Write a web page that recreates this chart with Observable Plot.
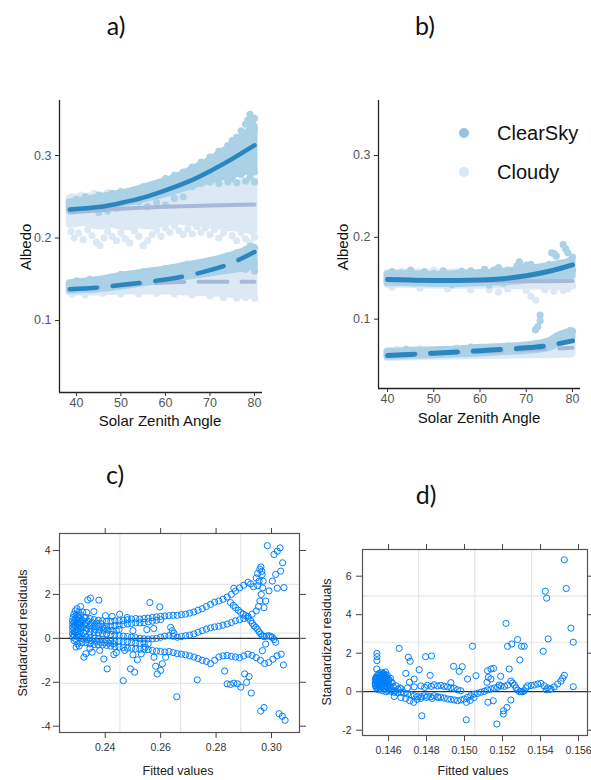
<!DOCTYPE html>
<html><head><meta charset="utf-8">
<script src="https://cdn.jsdelivr.net/npm/d3@7"></script>
<script src="https://cdn.jsdelivr.net/npm/@observablehq/plot@0.6"></script>
<style>
body{margin:0;background:#fff;}
#root{position:relative;width:591px;height:780px;overflow:hidden;font-family:"Liberation Sans",Arial,sans-serif;background:#fff;}
.panel{position:absolute;}
.panel svg{max-width:none;background:transparent;}
.t{position:absolute;white-space:nowrap;transform:translate(-50%,-50%);line-height:1;}
.rot{transform:translate(-50%,-50%) rotate(-90deg);}
.plab{font-family:Lato,"Noto Sans",sans-serif;font-size:25px;color:#111;}
.gtitle{font-size:15px;color:#111;}
.ltitle{font-size:12.5px;color:#222;}
.leg{position:absolute;font-size:20px;color:#111;line-height:1;transform:translateY(-50%);white-space:nowrap;}
.legdot{position:absolute;width:10px;height:10px;border-radius:50%;transform:translate(-50%,-50%);}
</style>
</head><body>
<div id="root"></div>
<script>
// ---------------- shared ----------------
const clearDot = "#abd1e6";
const cloudyDot = "#dce9f5";
const clearLine = "#2b86bf";
const cloudyLine = "#a8b8d9";
const resid = "#0080ff";
const legendLabels = ["ClearSky", "Cloudy"];
const legendColors = ["#94c4df", "#dbe8f4"];

const albedoXTicks = [40, 50, 60, 70, 80];
const albedoYTicks = [0.1, 0.2, 0.3];

// ---------------- panel a data ----------------
const aXDomain = [36.2, 81.8];
const aYDomain = [0.0127, 0.3667];
const aFitX = [38.5, 45, 50, 55, 60, 65, 70, 75, 80];
const aClearSolid = [0.2345, 0.2375, 0.2425, 0.249, 0.2578, 0.268, 0.281, 0.296, 0.3124];
const aClearDashed = [0.138, 0.140, 0.143, 0.146, 0.1497, 0.1545, 0.161, 0.170, 0.183];
const aCloudFitX = [38.5, 50, 60, 70, 80];
const aCloudSolid = [0.231, 0.2355, 0.238, 0.2395, 0.2405];
const aCloudDashed = [0.137, 0.1425, 0.146, 0.147, 0.147];

const aBandX = [38.5, 42, 45, 48, 51, 54, 57, 60, 63, 66, 69, 72, 75, 78, 80];
const aCloudyUpLo = [0.216,0.218,0.214,0.216,0.213,0.215,0.214,0.218,0.220,0.218,0.216,0.214,0.212,0.210,0.208];
const aCloudyUpHi = [0.248,0.250,0.251,0.252,0.254,0.256,0.257,0.258,0.260,0.261,0.262,0.263,0.265,0.266,0.267];
const aClearUpLo = [0.233,0.235,0.237,0.239,0.242,0.245,0.249,0.253,0.258,0.263,0.268,0.272,0.276,0.280,0.282];
const aClearUpHi = [0.243,0.246,0.249,0.252,0.255,0.259,0.264,0.269,0.275,0.283,0.291,0.301,0.312,0.326,0.336];
const aLowX = [38.5, 45, 50, 55, 60, 65, 70, 75, 80];
const aCloudyLowLo = [0.134,0.134,0.135,0.135,0.135,0.134,0.133,0.131,0.130];
const aCloudyLowHi = [0.145,0.146,0.148,0.150,0.152,0.153,0.154,0.155,0.156];
const aClearLowLo = [0.136,0.138,0.141,0.145,0.149,0.153,0.157,0.161,0.165];
const aClearLowHi = [0.145,0.149,0.154,0.158,0.162,0.167,0.172,0.179,0.188];

const aCloudyUpDots = [[38.8,0.208],[39.5,0.200],[40.5,0.206],[41.5,0.198],[42.5,0.210],[43.5,0.203],[44.5,0.195],[45.3,0.191],[46.2,0.200],[47,0.208],[48,0.202],[49,0.197],[50,0.206],[51,0.199],[52,0.194],[53,0.209],[54,0.202],[55,0.191],[56,0.197],[57,0.204],[58,0.209],[59,0.202],[60,0.212],[61,0.207],[62,0.215],[63,0.209],[64,0.204],[65,0.211],[66,0.205],[67,0.214],[68,0.207],[69,0.212],[70,0.204],[71,0.210],[72,0.200],[73,0.206],[74,0.212],[75,0.203],[76,0.197],[77,0.206],[78,0.199],[79,0.194],[80,0.201],[79.5,0.208],[38.8,0.250],[41,0.252],[44,0.254],[47,0.255],[50,0.257],[53,0.258],[56,0.260],[59,0.261],[62,0.262],[65,0.263],[68,0.265],[71,0.265],[74,0.267],[77,0.268],[80,0.270],[78.5,0.262]];
const aClearUpDots = [[40,0.247],[42,0.250],[44,0.245],[45,0.252],[46,0.249],[48,0.254],[50,0.256],[52,0.252],[53,0.258],[55,0.262],[57,0.260],[58,0.266],[60,0.272],[61,0.267],[62,0.276],[64,0.280],[65,0.275],[66,0.286],[68,0.292],[69,0.285],[70,0.298],[72,0.305],[73,0.296],[74,0.312],[75,0.318],[76,0.322],[77,0.330],[78,0.338],[78.5,0.343],[79,0.350],[79.5,0.340],[80,0.345],[80,0.332],[79,0.325],[66,0.262],[68,0.266],[69,0.270],[70,0.268],[71,0.273],[72,0.266],[73,0.275],[74,0.268],[75,0.272],[76,0.267],[77,0.277],[78,0.269],[79,0.274],[80,0.268],[80,0.280],[49,0.236],[54,0.244],[58,0.243],[62,0.248],[45,0.231],[47,0.233],[56,0.238],[60,0.240],[64,0.250]];
const aCloudyLowDots = [[39,0.132],[42,0.131],[46,0.133],[50,0.132],[54,0.132],[58,0.133],[62,0.132],[66,0.131],[70,0.130],[73,0.128],[76,0.127],[78,0.128],[80,0.127],[79,0.161],[80,0.164],[77,0.160],[74,0.158]];
const aClearLowDots = [[40,0.148],[43,0.150],[47,0.150],[50,0.156],[52,0.153],[55,0.159],[57,0.157],[60,0.163],[62,0.161],[65,0.168],[67,0.166],[70,0.173],[72,0.170],[74,0.178],[76,0.182],[78,0.186],[79,0.190],[80,0.188],[77,0.175],[79,0.178],[80,0.170],[75,0.165],[78,0.162],[80,0.160]];

// ---------------- panel b data ----------------
const bXDomain = [38.05, 81.73];
const bYDomain = [0.0153, 0.3672];
const bFitX = [40, 45, 50, 55, 60, 65, 70, 75, 80];
const bClearSolid = [0.1485, 0.1478, 0.1473, 0.1472, 0.1478, 0.1495, 0.153, 0.1585, 0.1663];
const bCloudFitX = [40, 50, 60, 70, 80];
const bCloudSolid = [0.1475, 0.1470, 0.1468, 0.1465, 0.1465];
const bClearDashX = [40, 50, 60, 70, 75, 80];
const bClearDashed = [0.0555, 0.0585, 0.0615, 0.0650, 0.068, 0.0735];
const bCloudDashed = [0.0565, 0.058, 0.060, 0.0625, 0.065];

const bBandX = [40, 45, 50, 55, 60, 65, 70, 75, 80];
const bCloudyUpLo = [0.142,0.142,0.141,0.141,0.141,0.141,0.140,0.140,0.140];
const bCloudyUpHi = [0.156,0.157,0.156,0.157,0.156,0.157,0.156,0.156,0.156];
const bClearUpLo = [0.144,0.144,0.143,0.143,0.144,0.145,0.147,0.150,0.153];
const bClearUpHi = [0.155,0.155,0.154,0.155,0.156,0.158,0.161,0.165,0.171];
const bLowCloudX = [40, 50, 60, 70, 75, 80];
const bCloudyLowLo = [0.053,0.054,0.055,0.056,0.056,0.057];
const bCloudyLowHi = [0.061,0.062,0.063,0.064,0.065,0.067];
const bLowClearX = [40, 45, 50, 55, 60, 65, 70, 73, 75, 77, 79, 80];
const bClearLowLo = [0.054,0.055,0.056,0.057,0.058,0.060,0.061,0.063,0.065,0.070,0.074,0.076];
const bClearLowHi = [0.060,0.061,0.062,0.063,0.065,0.066,0.068,0.070,0.073,0.080,0.084,0.085];

const bCloudyUpDots = [[41,0.139],[43,0.158],[47,0.138],[50,0.160],[53,0.137],[56,0.159],[58,0.136],[62,0.136],[64,0.133],[66,0.137],[68,0.158],[70,0.135],[71,0.128],[72,0.123],[74,0.136],[76,0.134],[77,0.140],[78,0.135],[79,0.137],[80,0.141],[75,0.160],[69,0.160]];
const bClearUpDots = [[41,0.158],[43,0.156],[45,0.160],[46,0.152],[48,0.158],[49,0.149],[50,0.156],[52,0.159],[53,0.145],[55,0.156],[56,0.158],[57,0.148],[58,0.159],[60,0.157],[61,0.161],[62,0.142],[63,0.160],[64,0.163],[66,0.160],[67,0.153],[68,0.165],[68.5,0.170],[69,0.163],[70,0.166],[71,0.167],[72,0.156],[73,0.158],[74,0.162],[75,0.167],[75.5,0.181],[76,0.180],[76.5,0.177],[77,0.168],[78,0.191],[78.5,0.186],[79,0.181],[79.5,0.172],[80,0.176],[80,0.160],[77,0.158],[65,0.144],[54,0.142]];
const bCloudyLowDots = [[42,0.063],[47,0.064],[55,0.065],[62,0.065],[68,0.066],[73,0.067],[77,0.068],[80,0.069],[79,0.057],[72,0.071]];
const bClearLowDots = [[72,0.087],[72.5,0.091],[73,0.098],[73,0.105],[79.5,0.086],[80,0.085],[44,0.063],[58,0.066],[66,0.067]];

// ---------------- panel c data ----------------
const cXDomain = [0.2235, 0.3101];
const cYDomain = [-4.287, 4.774];
const cXTicks = [0.24, 0.26, 0.28, 0.30];
const cYTicks = [-4, -2, 0, 2, 4];
const cGridX = [0.2453, 0.2672, 0.2889];
const cGridY = [2.46, 0.24, -2.05];
const cDense = [[0.2282,0.8],[0.2282,0.5],[0.2282,0.2],[0.2283,0.65],[0.2283,0.35],[0.2284,0.95],[0.2284,0.05],[0.2287,1.1],[0.2287,0.75],[0.2287,0.45],[0.2288,0.15],[0.2288,-0.1],[0.2289,0.6],[0.2289,0.3],[0.2292,1.25],[0.2292,0.9],[0.2293,0.55],[0.2293,0.25],[0.2294,-0.05],[0.2294,0.7],[0.2295,0.4],[0.2295,1.05],[0.2295,-0.4],[0.2298,1.35],[0.2298,0.85],[0.2299,0.5],[0.2299,0.15],[0.2300,-0.25],[0.2300,0.65],[0.2301,1.0],[0.2301,0.3],[0.2304,1.2],[0.2304,0.75],[0.2305,0.45],[0.2305,0.05],[0.2306,-0.35],[0.2307,0.9],[0.2307,0.6],[0.2308,0.2],[0.2311,1.45],[0.2311,1.05],[0.2312,0.7],[0.2312,0.35],[0.2313,0.0],[0.2314,0.55],[0.2315,0.85],[0.2316,-0.2],[0.2319,1.2],[0.2320,0.8],[0.2321,0.5],[0.2322,0.25],[0.2323,-0.05],[0.2324,0.95],[0.2325,0.65]];
const cBandU = [[0.2330,0.95],[0.2345,0.90],[0.2360,0.85],[0.2375,0.82],[0.2390,0.80],[0.2405,0.78],[0.2420,0.78],[0.2435,0.80],[0.2450,0.80],[0.2465,0.82],[0.2480,0.85],[0.2495,0.88],[0.2510,0.90],[0.2525,0.88],[0.2540,0.90],[0.2555,0.92],[0.2570,0.95],[0.2585,0.98],[0.2600,1.00],[0.2615,1.02],[0.2630,1.03],[0.2645,1.05],[0.2660,1.05],[0.2675,1.08],[0.2690,1.10],[0.2705,1.15],[0.2720,1.20],[0.2735,1.28],[0.2750,1.35],[0.2765,1.45],[0.2780,1.55],[0.2795,1.65],[0.2810,1.70],[0.2825,1.78],[0.2840,1.88],[0.2855,2.00],[0.2870,2.15],[0.2885,2.30],[0.2900,2.42],[0.2915,2.55],[0.2925,2.48],[0.2935,2.35],[0.2945,2.75],[0.2950,2.95],[0.2958,3.15],[0.2965,3.05]];
const cBandU2 = [[0.2330,0.62],[0.2345,0.58],[0.2360,0.55],[0.2375,0.55],[0.2390,0.52],[0.2405,0.55],[0.2420,0.55],[0.2435,0.58],[0.2450,0.60],[0.2465,0.62],[0.2480,0.65],[0.2495,0.68],[0.2510,0.70],[0.2525,0.70],[0.2540,0.72],[0.2555,0.75],[0.2570,0.78],[0.2585,0.82],[0.2600,0.85]];
const cBandM = [[0.2330,0.35],[0.2345,0.30],[0.2360,0.28],[0.2375,0.25],[0.2390,0.22],[0.2405,0.20],[0.2420,0.18],[0.2435,0.15],[0.2450,0.12],[0.2465,0.10],[0.2480,0.08],[0.2495,0.05],[0.2510,0.03],[0.2525,0.00],[0.2540,-0.02],[0.2555,-0.03],[0.2570,-0.02],[0.2585,0.00],[0.2600,0.05],[0.2615,0.10],[0.2630,0.12],[0.2645,0.10],[0.2660,0.05],[0.2675,0.08],[0.2690,0.12],[0.2705,0.15],[0.2720,0.20],[0.2735,0.28],[0.2750,0.35],[0.2765,0.42],[0.2780,0.48],[0.2795,0.52],[0.2810,0.55],[0.2825,0.60],[0.2840,0.65],[0.2855,0.72],[0.2870,0.80],[0.2885,0.85],[0.2900,0.90],[0.2915,1.00],[0.2930,1.10],[0.2945,1.25],[0.2953,1.45],[0.2958,1.70],[0.2963,2.00],[0.2968,2.30],[0.2970,2.60],[0.2966,2.90],[0.2962,3.25]];
const cBandM2 = [[0.2330,0.05],[0.2345,0.02],[0.2360,0.00],[0.2375,-0.02],[0.2390,-0.05],[0.2405,-0.08],[0.2420,-0.10],[0.2435,-0.12],[0.2450,-0.12],[0.2465,-0.15],[0.2480,-0.15],[0.2495,-0.18],[0.2510,-0.20],[0.2525,-0.22],[0.2540,-0.22],[0.2555,-0.25]];
const cBandExtra = [[0.2335,0.45],[0.2350,0.42],[0.2365,0.40],[0.2380,0.38],[0.2395,0.37],[0.2410,0.38],[0.2425,0.36],[0.2440,0.35],[0.2338,-0.05],[0.2352,-0.12],[0.2368,-0.15],[0.2383,-0.18],[0.2398,-0.20],[0.2413,-0.22],[0.2428,-0.24],[0.2338,0.78],[0.2352,0.72],[0.2368,0.70],[0.2383,0.68]];
const cBandL = [[0.2330,-0.20],[0.2345,-0.25],[0.2360,-0.28],[0.2375,-0.30],[0.2390,-0.30],[0.2405,-0.32],[0.2420,-0.35],[0.2435,-0.38],[0.2450,-0.40],[0.2465,-0.42],[0.2480,-0.45],[0.2495,-0.45],[0.2510,-0.48],[0.2525,-0.50],[0.2540,-0.50],[0.2555,-0.52],[0.2570,-0.55],[0.2585,-0.58],[0.2600,-0.60],[0.2615,-0.62],[0.2630,-0.60],[0.2645,-0.65],[0.2660,-0.70],[0.2675,-0.72],[0.2690,-0.75],[0.2705,-0.80],[0.2720,-0.85],[0.2735,-0.92],[0.2750,-1.00],[0.2765,-1.05],[0.2780,-1.15],[0.2795,-1.00],[0.2810,-0.85],[0.2825,-0.80],[0.2840,-0.78],[0.2855,-0.82],[0.2870,-0.85],[0.2885,-0.88],[0.2900,-0.80],[0.2915,-0.72],[0.2930,-0.78],[0.2945,-0.88],[0.2960,-1.00],[0.2975,-1.15],[0.2990,-1.10],[0.3005,-0.95],[0.3020,-0.80],[0.3035,-0.72]];
const cBandD = [[0.2852,1.63],[0.2862,1.50],[0.2870,1.40],[0.2880,1.28],[0.2889,1.18],[0.2898,1.10],[0.2907,1.03],[0.2916,0.92],[0.2925,0.80],[0.2931,0.68],[0.2937,0.57],[0.2943,0.50],[0.2949,0.42],[0.2955,0.30],[0.2961,0.20],[0.2967,0.12],[0.2973,0.08],[0.2982,0.10],[0.2991,0.12],[0.2997,0.08],[0.3003,0.05],[0.3009,-0.05],[0.3015,-0.18]];
const cUpperRight = [[0.2985,4.22],[0.3009,3.82],[0.3021,3.97],[0.3031,4.12],[0.3040,3.44],[0.3033,3.06],[0.3015,2.91],[0.3003,2.61],[0.3021,2.28],[0.3045,2.31],[0.2991,2.16],[0.2979,1.70],[0.2973,1.40],[0.2864,2.28],[0.2950,2.40],[0.2955,2.60]];
const cOutliers = [[0.2337,1.75],[0.2347,1.83],[0.2377,1.74],[0.2359,1.22],[0.2333,1.18],[0.2401,1.03],[0.2425,1.00],[0.2452,1.10],[0.2561,1.63],[0.2597,1.43],[0.2479,0.95],[0.2636,0.50],[0.2642,0.35],[0.2648,0.23],[0.2323,-0.86],[0.2353,-0.63],[0.2407,-1.39],[0.2395,-0.94],[0.2431,-0.74],[0.2465,-1.93],[0.2491,-1.39],[0.2506,-1.54],[0.2516,-0.98],[0.2576,-0.86],[0.2582,-1.27],[0.2588,-1.62],[0.2600,-1.46],[0.2606,-1.16],[0.2618,-0.86],[0.2658,-2.66],[0.2732,-1.89],[0.2831,-1.49],[0.2840,-2.07],[0.2852,-2.10],[0.2864,-2.04],[0.2877,-2.07],[0.2889,-2.22],[0.2903,-1.62],[0.2910,-2.01],[0.2919,-1.74],[0.2927,-2.49],[0.2961,-3.31],[0.2973,-3.15],[0.2979,-0.26],[0.2967,-0.56],[0.3027,-3.43],[0.3039,-3.55],[0.3049,-3.73],[0.3043,-1.21],[0.2330,-0.70],[0.2345,-0.45],[0.2380,-0.55],[0.2440,-0.65],[0.2470,-0.55],[0.2500,-0.75],[0.2530,-0.70],[0.2545,-0.40],[0.2500,0.35],[0.2450,0.40],[0.2400,0.45],[0.2550,0.40],[0.2575,0.45]];

// ---------------- panel d data ----------------
const dXDomain = [0.14463, 0.15647];
const dYDomain = [-2.275, 7.387];
const dXTicks = [0.146, 0.148, 0.150, 0.152, 0.154, 0.156];
const dYTicks = [-2, 0, 2, 4, 6];
const dGridX = [0.14758, 0.15054, 0.15353];
const dGridY = [4.96, 2.57, 0.14];
const dStart = [[0.14530,0.45],[0.14530,0.60],[0.14532,0.30],[0.14534,0.75],[0.14536,0.50],[0.14538,0.20],[0.14540,0.65],[0.14542,0.85],[0.14544,0.40],[0.14546,0.10],[0.14548,0.55],[0.14550,0.95],[0.14552,0.30],[0.14554,0.70],[0.14556,0.15],[0.14558,0.45],[0.14560,0.85],[0.14562,1.00],[0.14564,0.60],[0.14566,0.25],[0.14568,0.05],[0.14570,0.75],[0.14572,0.40],[0.14574,0.95],[0.14576,0.15],[0.14578,0.55],[0.14580,0.80],[0.14582,0.30],[0.14584,1.02],[0.14586,0.00],[0.14588,0.65],[0.14590,0.45],[0.14594,0.85],[0.14596,0.20],[0.14600,0.55],[0.14605,0.35],[0.14610,0.70],[0.14615,0.10],[0.14620,0.45],[0.14625,0.25],[0.14630,0.05],[0.14640,0.30],[0.14650,0.12],[0.14660,0.20],[0.14538,1.18],[0.14539,1.61],[0.14539,1.82],[0.14539,1.99]];
const dStart2 = [[0.14531,0.38],[0.14533,0.68],[0.14535,0.22],[0.14537,0.58],[0.14541,0.48],[0.14543,0.72],[0.14545,0.28],[0.14547,0.88],[0.14549,0.35],[0.14551,0.62],[0.14553,0.82],[0.14555,0.42],[0.14557,0.68],[0.14559,0.25],[0.14561,0.52],[0.14563,0.90],[0.14565,0.35],[0.14567,0.70],[0.14569,0.48],[0.14571,0.92],[0.14573,0.62],[0.14575,0.30],[0.14577,0.80],[0.14579,0.42],[0.14581,0.68],[0.14583,0.18],[0.14585,0.88],[0.14587,0.52],[0.14589,0.28],[0.14592,0.72],[0.14598,0.38],[0.14603,0.62],[0.14608,0.22],[0.14613,0.50]];
const dMain = [[0.14586,0.14],[0.14598,0.05],[0.14612,0.02],[0.14630,-0.03],[0.14647,-0.05],[0.14665,-0.03],[0.14682,-0.07],[0.14700,-0.12],[0.14718,-0.16],[0.14735,-0.21],[0.14753,-0.26],[0.14770,-0.26],[0.14788,-0.21],[0.14805,-0.23],[0.14823,-0.26],[0.14840,-0.21],[0.14858,-0.26],[0.14875,-0.29],[0.14893,-0.33],[0.14911,-0.38],[0.14928,-0.40],[0.14946,-0.43],[0.14963,-0.47],[0.14981,-0.43],[0.14998,-0.38],[0.15016,-0.29],[0.15033,-0.21],[0.15051,-0.12],[0.15068,-0.09],[0.15086,-0.03],[0.15104,0.02],[0.15121,0.09],[0.15139,0.14],[0.15156,0.19],[0.15174,0.23]];
const dUpperBand = [[0.14665,0.15],[0.14700,0.20],[0.14735,0.25],[0.14770,0.30],[0.14790,0.22],[0.14805,0.33],[0.14825,0.28],[0.14840,0.36],[0.14858,0.30],[0.14875,0.33],[0.14893,0.28],[0.14910,0.25],[0.14928,0.20],[0.14945,0.18],[0.14963,0.10],[0.14980,0.05]];
const dLowerBand = [[0.14630,-0.25],[0.14665,-0.30],[0.14690,-0.35],[0.14712,-0.47],[0.14732,-0.55],[0.14750,-0.40],[0.14770,-0.35],[0.14800,-0.30],[0.14830,-0.35],[0.14860,-0.30],[0.15010,-0.55],[0.15030,-0.45],[0.15050,-0.30]];
const dRight = [[0.15192,0.30],[0.15210,0.28],[0.15227,0.35],[0.15244,0.55],[0.15253,0.45],[0.15262,0.35],[0.15271,0.20],[0.15280,0.08],[0.15290,0.00],[0.15297,0.00],[0.15306,0.00],[0.15314,0.05],[0.15323,0.20],[0.15332,0.30],[0.15350,0.32],[0.15367,0.35],[0.15385,0.40],[0.15402,0.43],[0.15420,0.30],[0.15437,0.20],[0.15455,0.15],[0.15472,0.25],[0.15490,0.40],[0.15507,0.55],[0.15516,0.70],[0.15525,0.85],[0.15430,0.10],[0.15450,0.12]];
const dOutliers = [[0.14656,2.25],[0.14691,0.95],[0.14704,1.79],[0.14714,1.58],[0.14710,0.49],[0.14735,0.66],[0.14761,1.14],[0.14775,-1.25],[0.14795,1.82],[0.14826,1.86],[0.14819,0.85],[0.14928,0.47],[0.14942,1.32],[0.14972,1.06],[0.14988,1.30],[0.15042,2.36],[0.15009,-1.46],[0.15060,0.83],[0.15016,0.66],[0.15121,1.09],[0.15139,1.18],[0.15153,1.21],[0.15125,0.75],[0.15139,0.66],[0.15118,0.49],[0.15123,-0.55],[0.15151,-0.47],[0.15170,-1.68],[0.15204,-1.16],[0.15205,-0.99],[0.15218,3.55],[0.15223,-0.82],[0.15226,2.36],[0.15235,1.18],[0.15244,-0.43],[0.15249,2.48],[0.15279,2.71],[0.15291,1.65],[0.15300,2.36],[0.15314,2.36],[0.15414,2.10],[0.15425,5.22],[0.15432,4.86],[0.15440,2.74],[0.15525,6.85],[0.15535,5.36],[0.15560,3.30],[0.15572,2.57],[0.15572,0.26],[0.15182,0.35],[0.15190,0.80]];

// ---------------- helpers ----------------
const band = (xs, lo, hi) => xs.map((x, i) => ({x, lo: lo[i], hi: hi[i]}));
const series = (xs, ys) => xs.map((x, i) => ({x, y: ys[i]}));
const px = d => d[0], py = d => d[1];
const fmtMinus = d => (d < 0 ? "-" + Math.abs(d) : String(d));

function bandMark(data, fill) {
  return Plot.areaY(data, {x: "x", y1: "lo", y2: "hi", fill, stroke: fill, strokeWidth: 7, strokeLinejoin: "round", curve: "catmull-rom"});
}
function dotMark(data, fill) {
  return Plot.dot(data, {x: px, y: py, r: 3.6, fill, stroke: "none"});
}

function albedoPlot(o) {
  return Plot.plot({
    width: o.width, height: 360,
    marginLeft: o.ml, marginRight: o.mr, marginTop: 20, marginBottom: o.mb,
    x: {domain: o.xd}, y: {domain: o.yd},
    style: {background: "transparent", fontFamily: "Liberation Sans, Arial, sans-serif", overflow: "visible"},
    marks: [
      ...o.layers,
      Plot.ruleX([o.xd[0]], {stroke: "#222", strokeWidth: 1.3}),
      Plot.ruleY([o.yd[0]], {stroke: "#222", strokeWidth: 1.3}),
      Plot.axisX({ticks: albedoXTicks, tickSize: 4, tickPadding: 2, label: null, stroke: "#333", fill: "#555", fontSize: 12.5}),
      Plot.axisY({ticks: albedoYTicks, tickSize: 4, tickPadding: 4, label: null, tickFormat: d3.format(".1f"), stroke: "#333", fill: "#555", fontSize: 12.5})
    ]
  });
}

function residPlot(o) {
  return Plot.plot({
    width: o.width, height: 280,
    marginLeft: o.ml, marginRight: o.mr, marginTop: o.mt, marginBottom: o.mb,
    x: {domain: o.xd}, y: {domain: o.yd},
    style: {background: "transparent", fontFamily: "Liberation Sans, Arial, sans-serif", overflow: "visible"},
    marks: [
      Plot.ruleX(o.gx, {stroke: "#e6e6e6", strokeWidth: 1.2}),
      Plot.ruleY(o.gy, {stroke: "#e6e6e6", strokeWidth: 1.2}),
      Plot.ruleY([0], {stroke: "#333", strokeWidth: 1.2}),
      ...o.pts.map(p => Plot.dot(p, {x: px, y: py, r: 3.1, stroke: resid, strokeWidth: 1, fill: "none"})),
      Plot.frame({stroke: "#555", strokeWidth: 1.2}),
      Plot.axisX({ticks: o.xt, anchor: "bottom", tickSize: 6, tickPadding: 5, tickFormat: o.xf, label: null, stroke: "#444", fill: "#333", fontSize: 10.5}),
      Plot.axisX({ticks: o.xt, anchor: "top", tickSize: 6, tickFormat: () => "", label: null, stroke: "#444"}),
      Plot.axisY({ticks: o.yt, anchor: "left", tickSize: 6, tickPadding: o.ytp, tickFormat: fmtMinus, label: null, stroke: "#444", fill: "#333", fontSize: 10.5}),
      Plot.axisY({ticks: o.yt, anchor: "right", tickSize: 6, tickFormat: () => "", label: null, stroke: "#444"})
    ]
  });
}

// ---------------- build ----------------
const root = document.getElementById("root");
function place(node, left, top, w) {
  const div = document.createElement("div");
  div.className = "panel";
  div.style.left = left + "px"; div.style.top = top + "px"; div.style.width = w + "px";
  div.appendChild(node); root.appendChild(div);
}
function text(str, cx, cy, cls, rot) {
  const el = document.createElement("div");
  el.className = "t " + cls + (rot ? " rot" : "");
  el.style.left = cx + "px"; el.style.top = cy + "px";
  el.textContent = str; root.appendChild(el);
}

const pa = albedoPlot({
  width: 295, ml: 59, mr: 33, mb: 48, xd: aXDomain, yd: aYDomain,
  layers: [
    bandMark(band(aBandX, aCloudyUpLo, aCloudyUpHi), cloudyDot),
    dotMark(aCloudyUpDots, cloudyDot),
    bandMark(band(aLowX, aCloudyLowLo, aCloudyLowHi), cloudyDot),
    dotMark(aCloudyLowDots, cloudyDot),
    bandMark(band(aBandX, aClearUpLo, aClearUpHi), clearDot),
    dotMark(aClearUpDots, clearDot),
    bandMark(band(aLowX, aClearLowLo, aClearLowHi), clearDot),
    dotMark(aClearLowDots, clearDot),
    Plot.line(series(aCloudFitX, aCloudSolid), {x: "x", y: "y", stroke: cloudyLine, strokeWidth: 4, curve: "natural"}),
    Plot.line(series(aCloudFitX, aCloudDashed), {x: "x", y: "y", stroke: cloudyLine, strokeWidth: 4, strokeDasharray: "29,14", curve: "natural"}),
    Plot.line(series(aFitX, aClearSolid), {x: "x", y: "y", stroke: clearLine, strokeWidth: 4.5, curve: "natural"}),
    Plot.line(series(aFitX, aClearDashed), {x: "x", y: "y", stroke: clearLine, strokeWidth: 4.5, strokeDasharray: "27,16", curve: "natural"})
  ]
});
place(pa, 0, 80, 295);

const pb = albedoPlot({
  width: 291, ml: 78, mr: 11, mb: 52, xd: bXDomain, yd: bYDomain,
  layers: [
    bandMark(band(bBandX, bCloudyUpLo, bCloudyUpHi), cloudyDot),
    dotMark(bCloudyUpDots, cloudyDot),
    bandMark(band(bLowCloudX, bCloudyLowLo, bCloudyLowHi), cloudyDot),
    dotMark(bCloudyLowDots, cloudyDot),
    bandMark(band(bBandX, bClearUpLo, bClearUpHi), clearDot),
    dotMark(bClearUpDots, clearDot),
    bandMark(band(bLowClearX, bClearLowLo, bClearLowHi), clearDot),
    dotMark(bClearLowDots, clearDot),
    Plot.line(series(bCloudFitX, bCloudSolid), {x: "x", y: "y", stroke: cloudyLine, strokeWidth: 4, curve: "natural"}),
    Plot.line(series(bCloudFitX, bCloudDashed), {x: "x", y: "y", stroke: cloudyLine, strokeWidth: 4, strokeDasharray: "29,14", curve: "natural"}),
    Plot.line(series(bFitX, bClearSolid), {x: "x", y: "y", stroke: clearLine, strokeWidth: 5, curve: "natural"}),
    Plot.line(series(bClearDashX, bClearDashed), {x: "x", y: "y", stroke: clearLine, strokeWidth: 5, strokeDasharray: "27,16", curve: "natural"})
  ]
});
place(pb, 300, 80, 291);

const pc = residPlot({
  width: 310, ml: 59, mr: 11, mt: 33, mb: 48, xd: cXDomain, yd: cYDomain,
  xt: cXTicks, yt: cYTicks, gx: cGridX, gy: cGridY, xf: d3.format(".2f"), ytp: 3,
  pts: [cDense, cBandU, cBandU2, cBandM, cBandM2, cBandExtra, cBandL, cBandD, cUpperRight, cOutliers]
});
place(pc, 0, 500, 310);

const pd = residPlot({
  width: 291, ml: 62, mr: 4, mt: 49, mb: 45, xd: dXDomain, yd: dYDomain,
  xt: dXTicks, yt: dYTicks, gx: dGridX, gy: dGridY, xf: d3.format(".3f"), ytp: 5,
  pts: [dStart, dStart2, dMain, dUpperBand, dLowerBand, dRight, dOutliers]
});
place(pd, 300, 500, 291);

// panel letters
text("a)", 116, 25, "plab");
text("b)", 425, 25, "plab");
text("c)", 115, 474, "plab");
text("d)", 426, 494, "plab");
// axis titles
text("Albedo", 25, 247, "gtitle", true);
text("Solar Zenith Angle", 160, 420, "gtitle");
text("Albedo", 342, 247, "gtitle", true);
text("Solar Zenith Angle", 479, 417, "gtitle");
text("Standardized residuals", 23, 633, "ltitle", true);
text("Fitted values", 178, 771, "ltitle");
text("Standardized residuals", 327, 642, "ltitle", true);
text("Fitted values", 473, 771, "ltitle");

// legend (panel b)
legendLabels.forEach((lab, i) => {
  const cy = [133, 172][i];
  const dot = document.createElement("div");
  dot.className = "legdot";
  dot.style.left = "464px"; dot.style.top = cy + "px"; dot.style.background = legendColors[i];
  root.appendChild(dot);
  const t = document.createElement("div");
  t.className = "leg"; t.style.left = "497px"; t.style.top = cy + "px"; t.textContent = lab;
  root.appendChild(t);
});
</script>
</body></html>
